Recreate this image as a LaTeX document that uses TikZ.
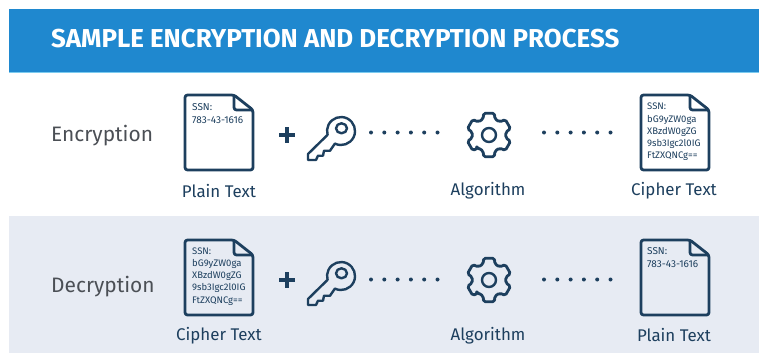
\documentclass[tikz,border=0pt]{standalone}
\usepackage{fontspec}
\setmainfont{Fira Sans}
\definecolor{headblue}{HTML}{1F88CF}
\definecolor{headline}{HTML}{7CCBEF}
\definecolor{bandgrey}{HTML}{E7EBF3}
\definecolor{navy}{HTML}{1D3F5E}
\definecolor{greytext}{HTML}{4B4F55}
\tikzset{
  x=1pt,y=-1pt,
  icon/.style={draw=navy,line width=2.8pt,line join=round},
  docicon/.pic={
    \draw[icon,rounded corners=2.5pt] (0,0) -- (49,0) -- (68,15) -- (68,75) -- (0,75) -- cycle;
    \draw[icon,rounded corners=2.5pt] (49,0) -- (49,15) -- (68,15);
  },
  keyicon/.pic={
    \draw[icon,line width=2.4pt] (19.5,26.9) -- (0,46) -- (0,52) -- (8,52) -- (10,47.7) -- (15,47.7) -- (16,42.7) -- (22,42.7) -- (26.9,35.6)
      arc[start angle=244,end angle=556,radius=14pt] -- cycle;
    \draw[icon,line width=2.4pt] (33.5,20.3) ellipse (5.5 and 5);
  },
  gearicon/.pic={
    \draw[icon,rounded corners=1.8pt] (-228:17)
      foreach \a in {-210,-150,-90,-30,30,90} {
        -- ({\a-20}:17) -- ({\a-14}:22.5) -- ({\a+14}:22.5) -- ({\a+20}:17)
      } -- cycle;
    \draw[icon,line width=2.4pt] (0,0) circle (7);
  },
  pluspic/.pic={
    \draw[navy,line width=4pt] (-8,0) -- (8,0) (0,-8) -- (0,8);
  },
  dotspic/.pic={
    \foreach \i in {0,...,5} \fill[navy] ({\i*13.3},0) circle (2);
  },
  title/.style={font=\fontsize{25.9}{28}\selectfont\bfseries,text=white,anchor=west,inner sep=0},
  rowlabel/.style={font=\fontsize{20.9}{22}\selectfont,text=greytext,anchor=west,inner sep=0},
  caption/.style={font=\fontsize{16.9}{18}\selectfont,text=navy,inner sep=0},
  doctext/.style={font=\fontsize{9.5}{12.2}\selectfont,text=navy,anchor=north west,inner sep=0,align=left},
  plaintext/.style={doctext,font=\fontsize{10}{12.2}\selectfont},
}
\begin{document}
\begin{tikzpicture}
\useasboundingbox (0,0) rectangle (759,353);
\fill[white] (0,0) rectangle (759,353);
\fill[headblue] (9,9) rectangle (759,72);
\fill[headline] (9,71.5) rectangle (759,72.5);
\fill[bandgrey] (9,216) rectangle (759,353);
\node[title] (head) at (51,39) {SAMPLE ENCRYPTION AND DECRYPTION PROCESS};
\node[rowlabel] (enc) at (51,135.5) {Encryption};
\node[rowlabel] (dec) at (51,287) {Decryption};
% encryption row
\pic at (185,95) {docicon};
\node[plaintext] (e1) at (192,103) {SSN:\\[0.6pt]783-43-1616};
\pic at (287,135) {pluspic};
\pic at (308,108) {keyicon};
\pic at (371,132.5) {dotspic};
\pic at (489,135) {gearicon};
\pic at (544,132.5) {dotspic};
\pic at (641,95) {docicon};
\node[doctext] (e2) at (647,103) {SSN:\\bG9yZW0ga\\XBzdW0gZG\\9sb3Igc2l0IG\\FtZXQNCg==};
\node[caption] (c1) at (219,191) {Plain Text};
\node[caption] (c2) at (488,191) {Algorithm};
\node[caption] (c3) at (674,191) {Cipher Text};
% decryption row
\pic at (185,240) {docicon};
\node[doctext] (d1) at (192,247.5) {SSN:\\bG9yZW0ga\\XBzdW0gZG\\9sb3Igc2l0IG\\FtZXQNCg==};
\pic at (287,280) {pluspic};
\pic at (308,253) {keyicon};
\pic at (371,279.5) {dotspic};
\pic at (489,280) {gearicon};
\pic at (544,279.5) {dotspic};
\pic at (641,240) {docicon};
\node[plaintext] (d2) at (647,247.5) {SSN:\\[0.6pt]783-43-1616};
\node[caption] (c4) at (219,335.5) {Cipher Text};
\node[caption] (c5) at (488,335.5) {Algorithm};
\node[caption] (c6) at (674,335.5) {Plain Text};
\end{tikzpicture}
\end{document}
